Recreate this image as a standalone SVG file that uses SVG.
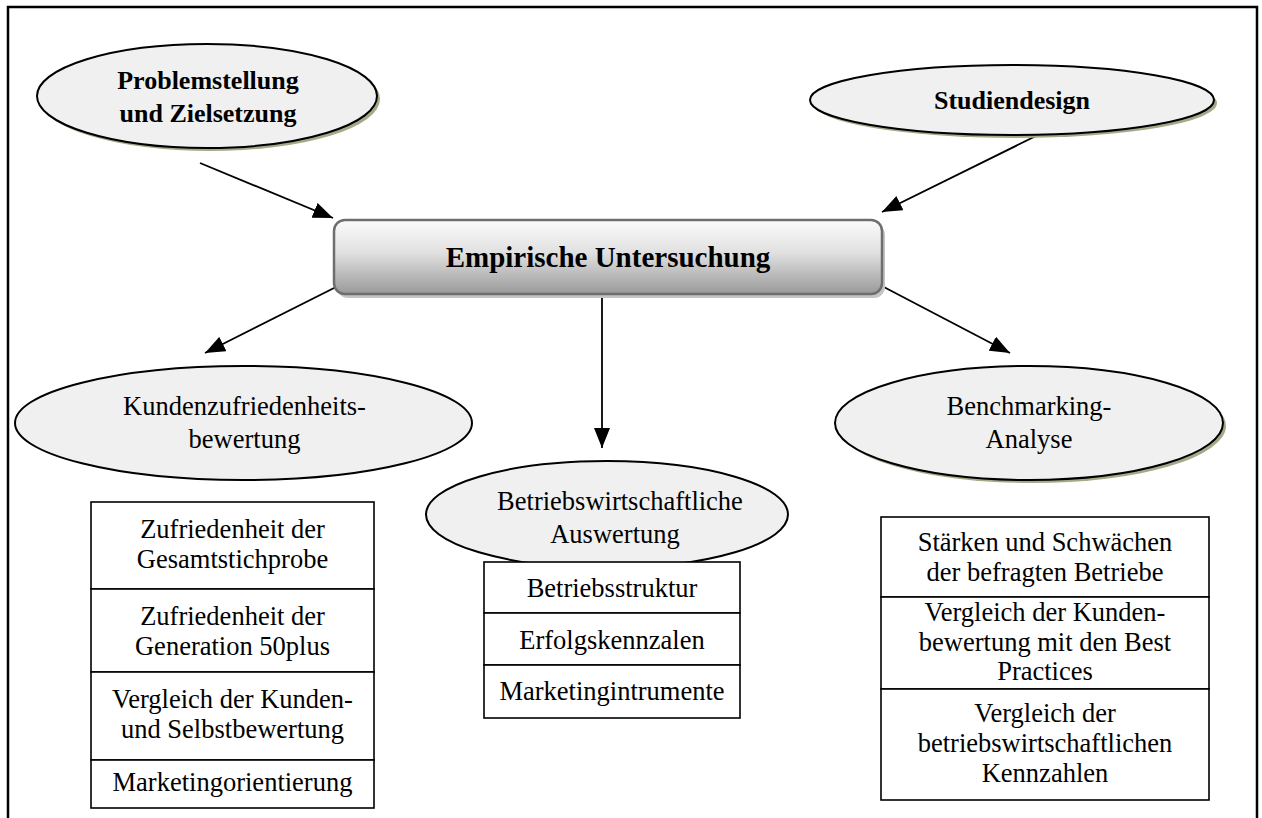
<svg xmlns="http://www.w3.org/2000/svg" width="1262" height="818" viewBox="0 0 1262 818">
  <defs>
    <linearGradient id="boxGrad" x1="0" y1="0" x2="0" y2="1">
      <stop offset="0" stop-color="#fbfbfb"/>
      <stop offset="0.45" stop-color="#e0e0e0"/>
      <stop offset="1" stop-color="#999999"/>
    </linearGradient>
    <marker id="arrow" viewBox="0 0 20 16" refX="20" refY="8" markerWidth="20" markerHeight="16" markerUnits="userSpaceOnUse" orient="auto">
      <path d="M0,0 L20,8 L0,16 Z" fill="#000"/>
    </marker>
    <style>
      .frame { fill: none; stroke: #000; stroke-width: 2.5; }
      .ell { fill: #f0f0f0; stroke: #000; stroke-width: 2; }
      .shadow { fill: #a6a988; }
      .cell { fill: #fff; stroke: #000; stroke-width: 1.6; }
      .bold { font-family: "Liberation Serif", "Times New Roman", serif; font-weight: bold; font-size: 26px; fill: #000; text-anchor: middle; }
      .txt { font-family: "Liberation Serif", "Times New Roman", serif; font-size: 26.5px; fill: #000; text-anchor: middle; }
      .conn { stroke: #000; stroke-width: 1.8; fill: none; marker-end: url(#arrow); }
    </style>
  </defs>

  <rect width="1262" height="818" fill="#fff"/>

  <!-- outer frame, open at the bottom edge -->
  <path class="frame" d="M8,818 L8,7 L1257,7 L1257,818"/>

  <g id="connectors">
    <line class="conn" x1="200" y1="163" x2="333" y2="218"/>
    <line class="conn" x1="1038" y1="135" x2="882" y2="212"/>
    <line class="conn" x1="340" y1="285" x2="205" y2="353"/>
    <line class="conn" x1="602" y1="294" x2="602" y2="448"/>
    <line class="conn" x1="880" y1="285" x2="1010" y2="353"/>
  </g>

  <g id="problemstellung">
    <ellipse class="shadow" cx="210" cy="99" rx="170" ry="52"/>
    <ellipse class="ell" cx="207" cy="96" rx="170" ry="52"/>
    <text class="bold" x="208" y="89">Problemstellung</text>
    <text class="bold" x="208" y="122">und Zielsetzung</text>
  </g>

  <g id="studiendesign">
    <ellipse class="shadow" cx="1015" cy="103" rx="202" ry="35"/>
    <ellipse class="ell" cx="1012" cy="100" rx="202" ry="35"/>
    <text class="bold" x="1012" y="109">Studiendesign</text>
  </g>

  <g id="empirische-untersuchung">
    <rect x="337" y="224" width="548" height="74" rx="11" fill="#c4c4c4"/>
    <rect x="334" y="220" width="548" height="74" rx="11" fill="url(#boxGrad)" stroke="#6e6e6e" stroke-width="2.5"/>
    <text class="bold" x="608" y="267" style="font-size:29px">Empirische Untersuchung</text>
  </g>

  <g id="kundenzufriedenheit">
    <ellipse class="ell" cx="243.5" cy="423" rx="228.5" ry="57"/>
    <text class="txt" x="244.5" y="415">Kundenzufriedenheits-</text>
    <text class="txt" x="244.5" y="448">bewertung</text>
  </g>

  <g id="betriebswirtschaftlich">
    <ellipse class="ell" cx="607" cy="514.5" rx="181" ry="53.5"/>
    <text class="txt" x="620" y="510">Betriebswirtschaftliche</text>
    <text class="txt" x="615" y="543">Auswertung</text>
  </g>

  <g id="benchmarking">
    <ellipse class="shadow" cx="1032" cy="426" rx="194" ry="57"/>
    <ellipse class="ell" cx="1029" cy="423" rx="194" ry="57"/>
    <text class="txt" x="1029" y="415">Benchmarking-</text>
    <text class="txt" x="1029" y="448">Analyse</text>
  </g>

  <g id="kunden-liste">
    <rect class="cell" x="91" y="502" width="283" height="87"/>
    <rect class="cell" x="91" y="589" width="283" height="83"/>
    <rect class="cell" x="91" y="672" width="283" height="88"/>
    <rect class="cell" x="91" y="760" width="283" height="48"/>
    <text class="txt" x="232.5" y="538">Zufriedenheit der</text>
    <text class="txt" x="232.5" y="568">Gesamtstichprobe</text>
    <text class="txt" x="232.5" y="625">Zufriedenheit der</text>
    <text class="txt" x="232.5" y="655">Generation 50plus</text>
    <text class="txt" x="232.5" y="708">Vergleich der Kunden-</text>
    <text class="txt" x="232.5" y="738">und Selbstbewertung</text>
    <text class="txt" x="232.5" y="791">Marketingorientierung</text>
  </g>

  <g id="betrieb-liste">
    <rect class="cell" x="484" y="562" width="256" height="51"/>
    <rect class="cell" x="484" y="613" width="256" height="52"/>
    <rect class="cell" x="484" y="665" width="256" height="53"/>
    <text class="txt" x="612" y="597">Betriebsstruktur</text>
    <text class="txt" x="612" y="649">Erfolgskennzalen</text>
    <text class="txt" x="612" y="700">Marketingintrumente</text>
  </g>

  <g id="benchmark-liste">
    <rect class="cell" x="881" y="517" width="328" height="80"/>
    <rect class="cell" x="881" y="597" width="328" height="92"/>
    <rect class="cell" x="881" y="689" width="328" height="111"/>
    <text class="txt" x="1045" y="551">Stärken und Schwächen</text>
    <text class="txt" x="1045" y="581">der befragten Betriebe</text>
    <text class="txt" x="1045" y="621">Vergleich der Kunden-</text>
    <text class="txt" x="1045" y="651">bewertung mit den Best</text>
    <text class="txt" x="1045" y="680">Practices</text>
    <text class="txt" x="1045" y="722">Vergleich der</text>
    <text class="txt" x="1045" y="752">betriebswirtschaftlichen</text>
    <text class="txt" x="1045" y="782">Kennzahlen</text>
  </g>
</svg>
